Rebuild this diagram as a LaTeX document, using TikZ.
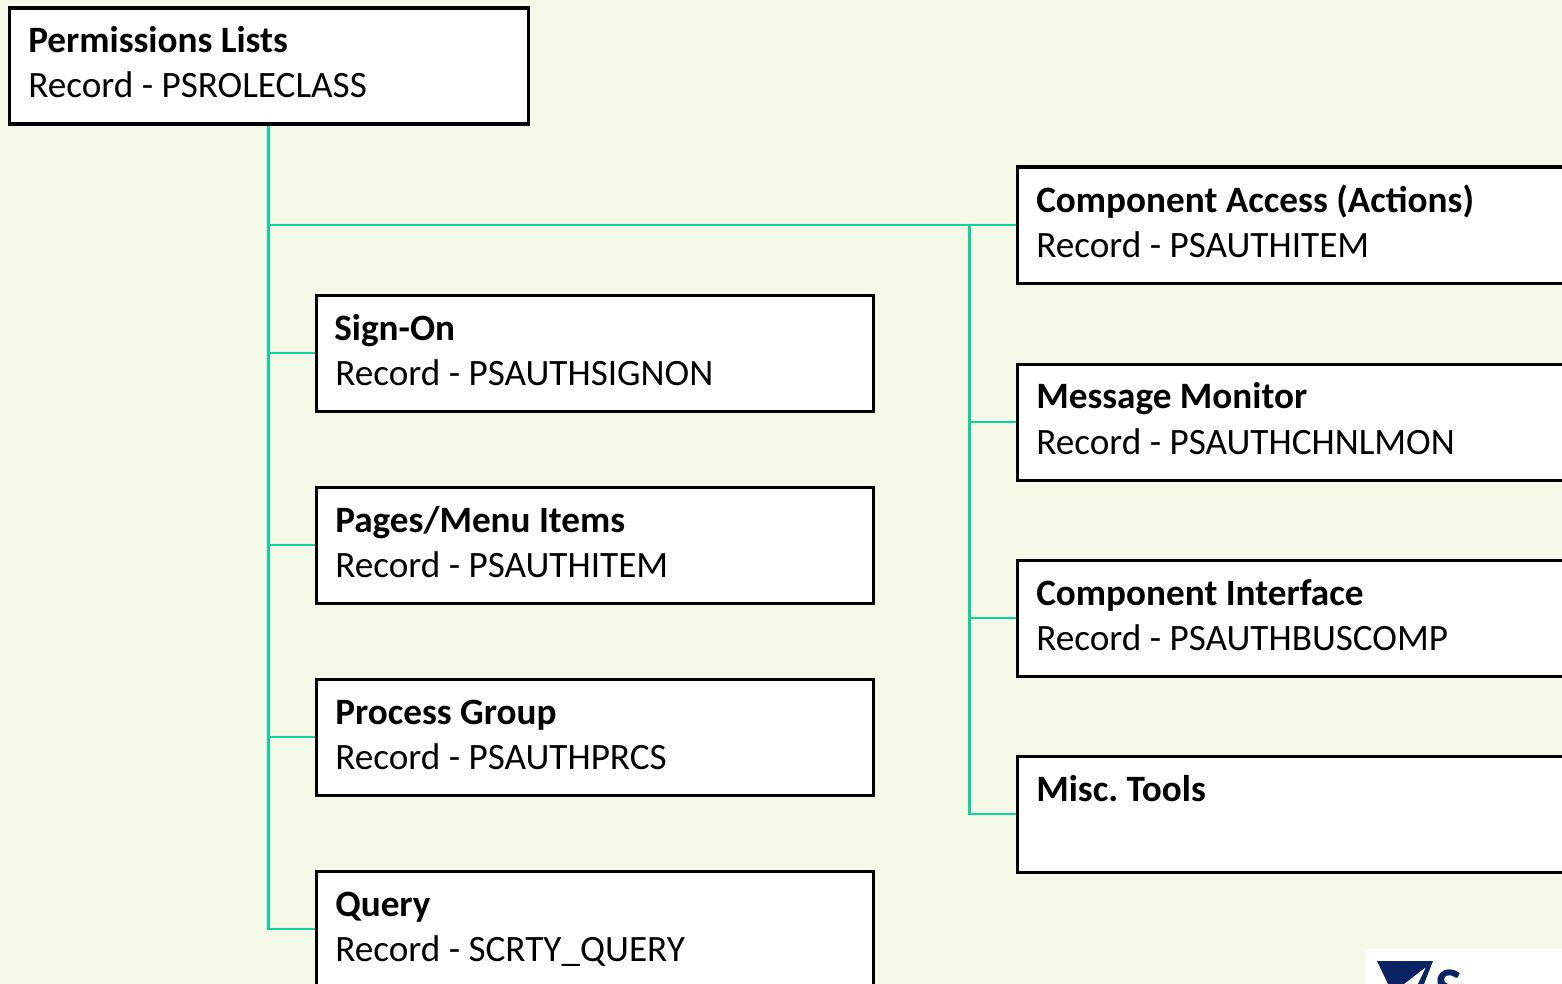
\documentclass[tikz,border=0pt]{standalone}
\usepackage{fontspec}
\setmainfont{Carlito}
\definecolor{bgc}{HTML}{F4F9E8}
\definecolor{linec}{HTML}{10D09C}
\definecolor{logoblue}{HTML}{0B2265}
\tikzset{
 card/.style={draw=black,fill=white,line width=2.3pt,minimum width=#1*0.75pt,minimum height=87pt,anchor=north west,inner sep=0pt},
 ttl/.style={anchor=base west,inner sep=0pt,font=\fontsize{27.9pt}{27.9pt}\selectfont\bfseries},
 sub/.style={anchor=base west,inner sep=0pt,font=\fontsize{27.9pt}{27.9pt}\selectfont},
 conn/.style={draw=linec,line width=2.1pt}
}
\begin{document}
\begin{tikzpicture}[x=0.75pt,y=-0.75pt]
\useasboundingbox (0,0) rectangle (1562,984);
\fill[bgc] (0,0) rectangle (1562,984);
\fill[white] (1366,949) rectangle (1562,984);
\fill[logoblue] (1377,961) -- (1433,961) -- (1424,984) -- (1418,984) -- (1426,967) -- (1404,984) -- (1388,984) -- cycle;
\node[anchor=base west,inner sep=0pt,text=logoblue,font=\fontsize{43pt}{43pt}\selectfont\bfseries] (logoS) at (1435,1007) {S};
\node[card=519] (root) at (7.5,6.5) {};
\node[card=557] (sign) at (314.5,293.5) {};
\node[card=557] (pages) at (314.5,485.5) {};
\node[card=557] (proc) at (314.5,677.5) {};
\node[card=557] (query) at (314.5,869.5) {};
\node[card=560] (comp) at (1015.5,165.5) {};
\node[card=560] (msg) at (1015.5,362.5) {};
\node[card=560] (ci) at (1015.5,558.5) {};
\node[card=560] (misc) at (1015.5,754.5) {};
\coordinate (rootj) at (root.south |- comp.west);
\coordinate (rightj) at (969.5,0 |- comp.west);
\draw[conn] (root.south) |- (query.west);
\draw[conn] (root.south) |- (sign.west);
\draw[conn] (root.south) |- (pages.west);
\draw[conn] (root.south) |- (proc.west);
\draw[conn] (rootj) -- (comp.west);
\draw[conn] (rightj) |- (msg.west);
\draw[conn] (rightj) |- (ci.west);
\draw[conn] (rightj) |- (misc.west);
\node[ttl] at (28,52.8) {Permissions Lists};
\node[sub] at (28,97.5) {Record - PSROLECLASS};
\node[ttl] at (334,340.8) {Sign-On};
\node[sub] at (335,385.5) {Record - PSAUTHSIGNON};
\node[ttl] at (335,532.8) {Pages/Menu Items};
\node[sub] at (335,577.5) {Record - PSAUTHITEM};
\node[ttl] at (335,724.8) {Process Group};
\node[sub] at (335,769.5) {Record - PSAUTHPRCS};
\node[ttl] at (335,916.8) {Query};
\node[sub] at (335,961.5) {Record - SCRTY\_QUERY};
\node[ttl] at (1036,212.8) {Component Access (Actions)};
\node[sub] at (1036,257.5) {Record - PSAUTHITEM};
\node[ttl] at (1036,408.8) {Message Monitor};
\node[sub] at (1036,454.5) {Record - PSAUTHCHNLMON};
\node[ttl] at (1036,605.8) {Component Interface};
\node[sub] at (1036,650.5) {Record - PSAUTHBUSCOMP};
\node[ttl] at (1036,801.8) {Misc.\ Tools};
\end{tikzpicture}
\end{document}
